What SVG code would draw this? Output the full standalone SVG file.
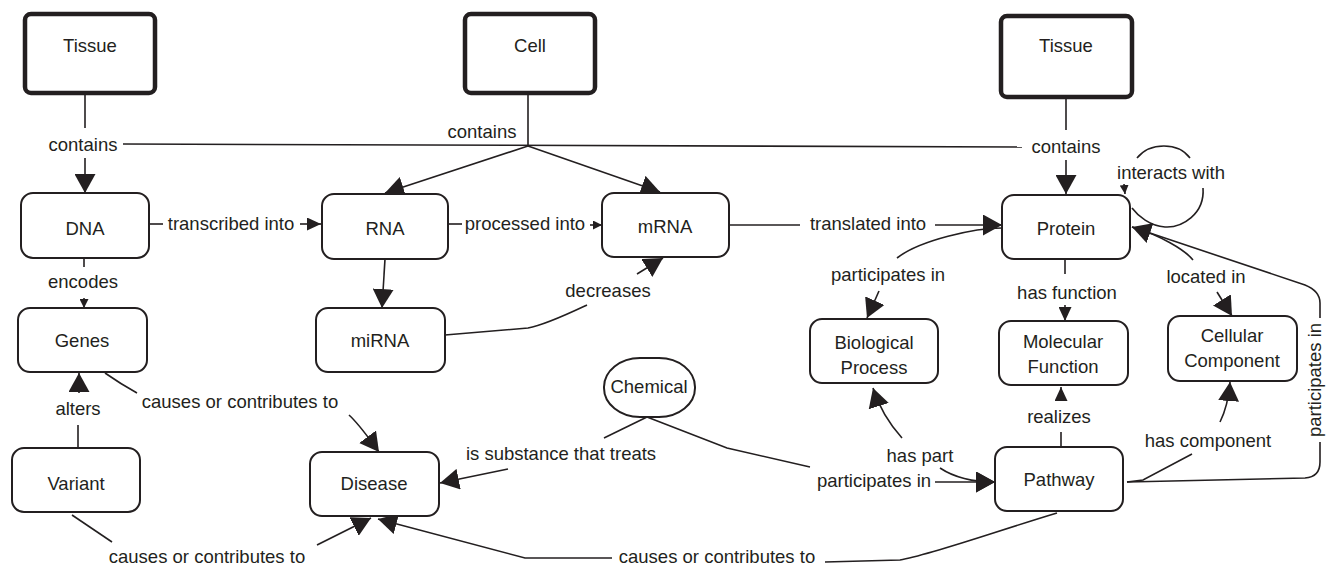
<svg xmlns="http://www.w3.org/2000/svg" width="1326" height="565" viewBox="0 0 1326 565">
<style>
.box{fill:#fff;stroke:#231f20;stroke-width:2}
.thick{fill:#fff;stroke:#231f20;stroke-width:4.5}
text{font-family:"Liberation Sans",Arial,sans-serif;font-size:18.5px;fill:#231f20;text-anchor:middle}
#connectors path{fill:none;stroke:#231f20;stroke-width:1.6}
.b{marker-end:url(#big)}
.m{marker-end:url(#med)}
.s{marker-end:url(#small)}
</style>
<defs>
<marker id="big" viewBox="0 0 19 21" refX="19" refY="10.5" markerWidth="19" markerHeight="21" markerUnits="userSpaceOnUse" orient="auto"><path d="M0,0 L19,10.5 L0,21 Z" fill="#231f20"/></marker>
<marker id="med" viewBox="0 0 14 13" refX="14" refY="6.5" markerWidth="14" markerHeight="13" markerUnits="userSpaceOnUse" orient="auto"><path d="M0,0 L14,6.5 L0,13 Z" fill="#231f20"/></marker>
<marker id="small" viewBox="0 0 9 9" refX="9" refY="4.5" markerWidth="9" markerHeight="9" markerUnits="userSpaceOnUse" orient="auto"><path d="M0,0 L9,4.5 L0,9 Z" fill="#231f20"/></marker>
</defs>
<rect width="1326" height="565" fill="#fff"/>
<g id="connectors">
<path d="M85,93 V128"/><path class="b" d="M85,158 V193"/>
<path d="M123,144 L1022,147"/>
<path d="M528,93 V146"/><path class="b" d="M528,146 L385,193"/><path class="b" d="M528,146 L660,192"/>
<path d="M1066,97 V130"/><path class="b" d="M1066,160 V194"/>
<path d="M1137,158 C1150,142 1178,142 1190,158"/>
<path d="M1203,188 C1205,214 1182,228 1165,227 C1150,226 1138,216 1132,208"/>
<path class="s" d="M1124,184 L1125,194"/>
<path d="M149,224 H163"/><path class="m" d="M300,224 H321"/>
<path d="M448,224 H462"/><path class="s" d="M590,225 H602"/>
<path d="M729,225 H800"/><path class="b" d="M935,225 H1002"/>
<path d="M1002,228 C975,228 920,240 897,258"/><path class="b" d="M879,291 L867,318"/>
<path d="M1065,259 V274"/><path class="m" d="M1065,305 V321"/>
<path d="M1132,227 C1160,235 1185,250 1193,260"/><path class="b" d="M1217,292 L1232,316"/>
<path d="M1127,482 L1305,478 Q1320,477 1320,462 V442"/>
<path class="b" d="M1320,318 V303 Q1320,291 1305,285 L1132,227"/>
<path d="M84,258 V267"/><path class="s" d="M84,298 V308"/>
<path class="b" d="M385,259 L382,308"/>
<path d="M445,335 L528,328 C545,325 570,313 587,305"/><path class="b" d="M637,274 L663,258"/>
<path d="M105,373 C115,380 128,388 137,393"/><path class="b" d="M349,415 C360,425 370,440 379,452"/>
<path d="M78,448 V425"/><path class="b" d="M79,393 V373"/>
<path d="M72,515 L112,542"/><path class="b" d="M317,545 L371,518"/>
<path d="M647,417 L604,438"/><path class="b" d="M508,469 L440,483"/>
<path d="M647,417 L727,448 L810,467"/><path class="b" d="M935,482 H995"/>
<path class="b" d="M902,438 C893,428 880,410 873,388"/>
<path class="b" d="M940,468 C955,478 975,482 995,482"/>
<path d="M1061,447 V432"/><path class="m" d="M1061,400 V387"/>
<path d="M1127,482 L1143,480 L1192,454"/><path class="b" d="M1220,422 C1226,410 1229,395 1230,382"/>
<path d="M1057,513 C1000,530 930,555 900,560 L825,562"/>
<path class="b" d="M612,558 L525,558 L378,519"/>
</g>
<g id="labels">
<text x="83" y="151">contains</text>
<text x="482" y="138">contains</text>
<text x="1066" y="153">contains</text>
<text x="1171" y="179">interacts with</text>
<text x="231" y="230">transcribed into</text>
<text x="525" y="230">processed into</text>
<text x="868" y="230">translated into</text>
<text x="888" y="281">participates in</text>
<text x="1067" y="299">has function</text>
<text x="1206" y="283">located in</text>
<text x="83" y="288">encodes</text>
<text x="608" y="297">decreases</text>
<text x="240" y="408">causes or contributes to</text>
<text x="78" y="415">alters</text>
<text x="561" y="460">is substance that treats</text>
<text x="920" y="462">has part</text>
<text x="874" y="487">participates in</text>
<text x="1059" y="423">realizes</text>
<text x="1208" y="447">has component</text>
<text x="207" y="563">causes or contributes to</text>
<text x="717" y="563">causes or contributes to</text>
<text transform="translate(1321,380) rotate(-90)" x="0" y="0">participates in</text>
</g>
<g id="tissue1"><rect class="thick" x="25" y="14" width="130" height="79" rx="6"/><text x="90" y="52">Tissue</text></g>
<g id="cell"><rect class="thick" x="465" y="14" width="130" height="79" rx="6"/><text x="530" y="52">Cell</text></g>
<g id="tissue2"><rect class="thick" x="1001" y="16" width="131" height="81" rx="6"/><text x="1066" y="52">Tissue</text></g>
<g id="dna"><rect class="box" x="21" y="193" width="128" height="65" rx="12"/><text x="85" y="235">DNA</text></g>
<g id="rna"><rect class="box" x="322" y="194" width="126" height="65" rx="12"/><text x="385" y="235">RNA</text></g>
<g id="mrna"><rect class="box" x="602" y="193" width="127" height="64" rx="12"/><text x="665" y="233">mRNA</text></g>
<g id="protein"><rect class="box" x="1002" y="195" width="128" height="64" rx="12"/><text x="1066" y="235">Protein</text></g>
<g id="genes"><rect class="box" x="18" y="308" width="129" height="64" rx="12"/><text x="82" y="347">Genes</text></g>
<g id="mirna"><rect class="box" x="316" y="308" width="129" height="64" rx="12"/><text x="380" y="347">miRNA</text></g>
<g id="bioprocess"><rect class="box" x="810" y="319" width="128" height="64" rx="12"/><text x="874" y="349">Biological</text><text x="874" y="374">Process</text></g>
<g id="molfunction"><rect class="box" x="999" y="321" width="129" height="64" rx="12"/><text x="1063" y="348">Molecular</text><text x="1063" y="373">Function</text></g>
<g id="cellcomponent"><rect class="box" x="1168" y="316" width="129" height="65" rx="12"/><text x="1232" y="342">Cellular</text><text x="1232" y="367">Component</text></g>
<g id="chemical"><rect class="box" x="604" y="358" width="91" height="59" rx="36" ry="29"/><text x="649" y="393">Chemical</text></g>
<g id="variant"><rect class="box" x="12" y="448" width="128" height="64" rx="12"/><text x="76" y="490">Variant</text></g>
<g id="disease"><rect class="box" x="310" y="452" width="129" height="64" rx="12"/><text x="374" y="490">Disease</text></g>
<g id="pathway"><rect class="box" x="995" y="447" width="128" height="64" rx="12"/><text x="1059" y="486">Pathway</text></g>
</svg>
